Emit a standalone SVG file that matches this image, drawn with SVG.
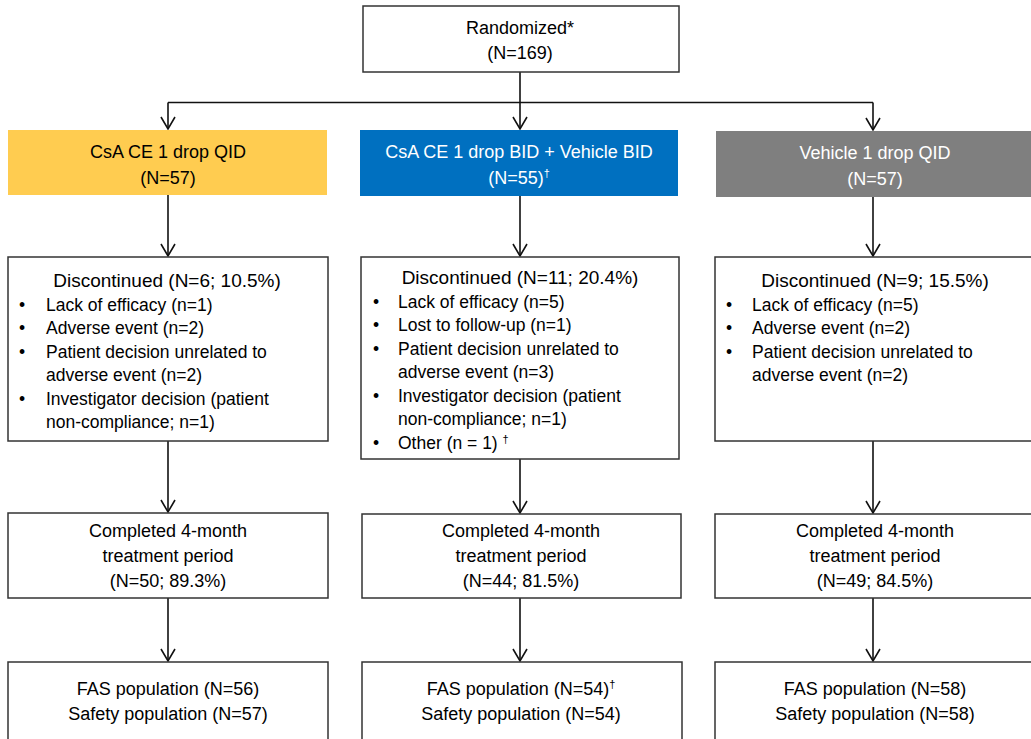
<svg xmlns="http://www.w3.org/2000/svg" width="1031" height="739" viewBox="0 0 1031 739">
<style>
text{font-family:"Liberation Sans",Arial,sans-serif;fill:#000}
.c{text-anchor:middle;font-size:18px}
.h{text-anchor:middle;font-size:19px}
.b{font-size:17.5px}
.w{fill:#fff}
.box{fill:#fff;stroke:#333;stroke-width:1.5}
.sup{font-size:11px}
.con{fill:none;stroke:#111;stroke-width:1.6}
</style>
<defs>
<marker id="arr" markerUnits="userSpaceOnUse" markerWidth="20" markerHeight="20" refX="0" refY="0" orient="auto" overflow="visible">
<path d="M-12,-7 L0,0 L-12,7" fill="none" stroke="#111" stroke-width="1.6"/>
</marker>
</defs>
<rect width="1031" height="739" fill="#fff"/>
<g id="connectors">
<path class="con" d="M520,72 V102.5"/>
<path class="con" d="M168,102.5 H873"/>
<path class="con" d="M168,102.5 V129" marker-end="url(#arr)"/>
<path class="con" d="M520,102.5 V129" marker-end="url(#arr)"/>
<path class="con" d="M873,102.5 V130" marker-end="url(#arr)"/>
<path class="con" d="M168,195 V256" marker-end="url(#arr)"/>
<path class="con" d="M520,196 V256" marker-end="url(#arr)"/>
<path class="con" d="M873,197 V256" marker-end="url(#arr)"/>
<path class="con" d="M168,441 V512" marker-end="url(#arr)"/>
<path class="con" d="M520,459 V513" marker-end="url(#arr)"/>
<path class="con" d="M873,441 V513" marker-end="url(#arr)"/>
<path class="con" d="M168,598 V661" marker-end="url(#arr)"/>
<path class="con" d="M520,598 V661" marker-end="url(#arr)"/>
<path class="con" d="M873,598 V661" marker-end="url(#arr)"/>
</g>
<g id="randomized">
<rect class="box" x="363" y="6" width="316" height="66"/>
<text class="c" x="520" y="34">Randomized*</text>
<text class="c" x="520" y="59">(N=169)</text>
</g>
<g id="arm1">
<rect x="8" y="130" width="319" height="65" fill="#FFCC50"/>
<text class="c" x="168" y="158">CsA CE 1 drop QID</text>
<text class="c" x="168" y="184">(N=57)</text>
</g>
<g id="arm2">
<rect x="360" y="130" width="318" height="66" fill="#0070C0"/>
<text class="c w" x="519" y="158">CsA CE 1 drop BID + Vehicle BID</text>
<text class="c w" x="519" y="184">(N=55)<tspan class="sup w" dy="-7">†</tspan></text>
</g>
<g id="arm3">
<rect x="716" y="131" width="320" height="66" fill="#7F7F7F"/>
<text class="c w" x="875" y="159">Vehicle 1 drop QID</text>
<text class="c w" x="875" y="185">(N=57)</text>
</g>
<g id="disc1">
<rect class="box" x="8" y="257" width="320" height="184"/>
<text class="h" x="167" y="287">Discontinued (N=6; 10.5%)</text>
<g class="b">
<text class="b" x="19" y="310.5">•</text><text class="b" x="46" y="310.5">Lack of efficacy (n=1)</text>
<text class="b" x="19" y="334">•</text><text class="b" x="46" y="334">Adverse event (n=2)</text>
<text class="b" x="19" y="357.5">•</text><text class="b" x="46" y="357.5">Patient decision unrelated to</text>
<text class="b" x="46" y="381">adverse event (n=2)</text>
<text class="b" x="19" y="404.5">•</text><text class="b" x="46" y="404.5">Investigator decision (patient</text>
<text class="b" x="46" y="428">non-compliance; n=1)</text>
</g>
</g>
<g id="disc2">
<rect class="box" x="361" y="257" width="318" height="202"/>
<text class="h" x="520" y="284">Discontinued (N=11; 20.4%)</text>
<text class="b" x="373" y="307.5">•</text><text class="b" x="398" y="307.5">Lack of efficacy (n=5)</text>
<text class="b" x="373" y="331">•</text><text class="b" x="398" y="331">Lost to follow-up (n=1)</text>
<text class="b" x="373" y="354.5">•</text><text class="b" x="398" y="354.5">Patient decision unrelated to</text>
<text class="b" x="398" y="378">adverse event (n=3)</text>
<text class="b" x="373" y="401.5">•</text><text class="b" x="398" y="401.5">Investigator decision (patient</text>
<text class="b" x="398" y="425">non-compliance; n=1)</text>
<text class="b" x="373" y="448.5">•</text><text class="b" x="398" y="448.5">Other (n = 1) <tspan class="sup" dy="-6">†</tspan></text>
</g>
<g id="disc3">
<rect class="box" x="715" y="257" width="320" height="184"/>
<text class="h" x="875" y="287">Discontinued (N=9; 15.5%)</text>
<text class="b" x="726" y="310.5">•</text><text class="b" x="752" y="310.5">Lack of efficacy (n=5)</text>
<text class="b" x="726" y="334">•</text><text class="b" x="752" y="334">Adverse event (n=2)</text>
<text class="b" x="726" y="357.5">•</text><text class="b" x="752" y="357.5">Patient decision unrelated to</text>
<text class="b" x="752" y="381">adverse event (n=2)</text>
</g>
<g id="comp1">
<rect class="box" x="8" y="513" width="320" height="85"/>
<text class="c" x="168" y="537">Completed 4-month</text>
<text class="c" x="168" y="562">treatment period</text>
<text class="c" x="168" y="587">(N=50; 89.3%)</text>
</g>
<g id="comp2">
<rect class="box" x="362" y="514" width="319" height="84"/>
<text class="c" x="521" y="537">Completed 4-month</text>
<text class="c" x="521" y="562">treatment period</text>
<text class="c" x="521" y="587">(N=44; 81.5%)</text>
</g>
<g id="comp3">
<rect class="box" x="715" y="514" width="320" height="84"/>
<text class="c" x="875" y="537">Completed 4-month</text>
<text class="c" x="875" y="562">treatment period</text>
<text class="c" x="875" y="587">(N=49; 84.5%)</text>
</g>
<g id="fas1">
<rect class="box" x="8" y="662" width="320" height="90"/>
<text class="c" x="168" y="695">FAS population (N=56)</text>
<text class="c" x="168" y="720">Safety population (N=57)</text>
</g>
<g id="fas2">
<rect class="box" x="362" y="662" width="320" height="90"/>
<text class="c" x="521" y="695">FAS population (N=54)<tspan class="sup" dy="-7">†</tspan></text>
<text class="c" x="521" y="720">Safety population (N=54)</text>
</g>
<g id="fas3">
<rect class="box" x="715" y="662" width="320" height="90"/>
<text class="c" x="875" y="695">FAS population (N=58)</text>
<text class="c" x="875" y="720">Safety population (N=58)</text>
</g>
</svg>
